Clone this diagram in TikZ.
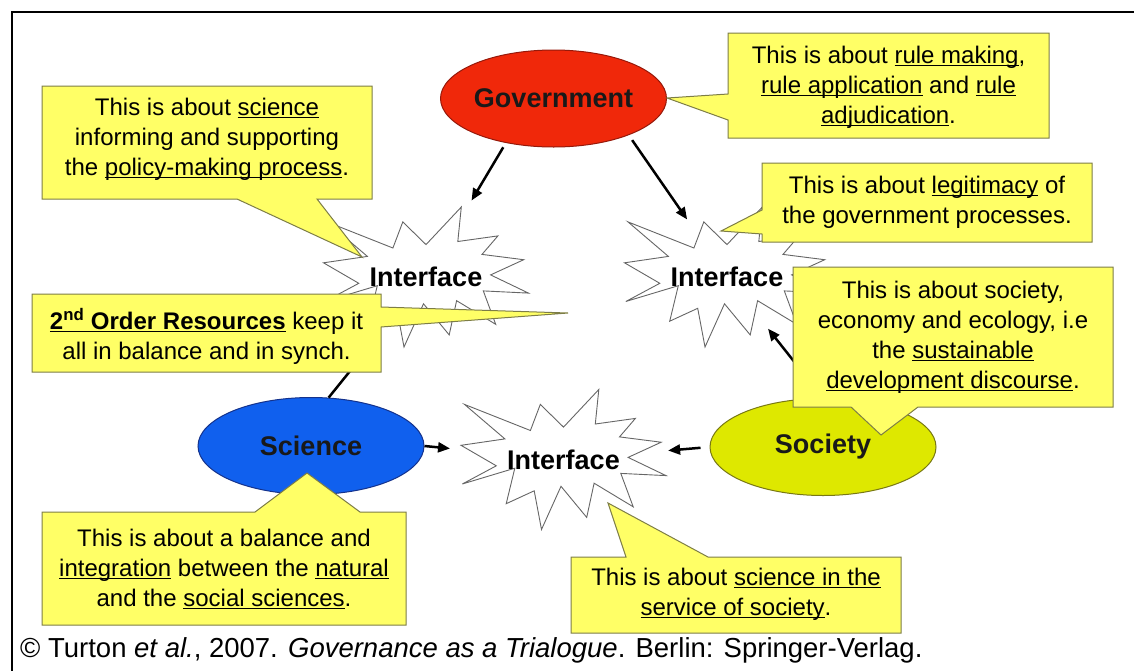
\documentclass[tikz,border=0pt]{standalone}
\usepackage{fontspec}
\setmainfont{Liberation Sans}
\usetikzlibrary{shapes.geometric,arrows.meta}

\definecolor{notefill}{RGB}{255,255,102}
\definecolor{noteline}{RGB}{125,125,70}
\definecolor{govred}{RGB}{240,40,10}
\definecolor{govline}{RGB}{150,25,10}
\definecolor{sciblue}{RGB}{16,96,238}
\definecolor{sciline}{RGB}{20,50,140}
\definecolor{socyel}{RGB}{222,232,0}
\definecolor{socline}{RGB}{120,120,20}

\newsavebox{\uwbox}
\newcommand{\uword}[1]{\sbox{\uwbox}{#1}\rlap{\rule[-3.2pt]{\wd\uwbox}{1.2pt}}\usebox{\uwbox}}

\begin{document}
\begin{tikzpicture}
[x=1pt,y=-1pt,
 actor/.style={ellipse,minimum width=226pt,minimum height=97pt,inner sep=0pt,line width=1pt,
   font=\fontsize{27}{32}\selectfont\bfseries,text=black!90},
 iface/.style={font=\fontsize{27}{32}\selectfont\bfseries,inner sep=0pt},
 note/.style={align=center,inner sep=0pt,font=\fontsize{24}{30}\selectfont},
 notebox/.style={fill=notefill,draw=noteline,line width=1pt},
 arr/.style={-{Triangle[length=12pt,width=10pt]},line width=2.5pt},
 pics/blast/.style={code={
   \draw[fill=white,draw=black!60,line width=0.9pt]
     (0,-32.4) -- (35.3,-70) -- (31.8,-35.5) -- (71.9,-41.1) -- (56,-22.6) -- (97.7,-17.3)
     -- (64.6,-2.1) -- (102.5,16.1) -- (57.3,13.9) -- (69.7,47.3) -- (30.6,23.7) -- (23.2,57.9)
     -- (-2.5,26.8) -- (-22,70) -- (-29.3,31.3) -- (-57.3,44.2) -- (-48.7,8.7) -- (-101.2,24.5)
     -- (-67.2,6.3) -- (-102.5,-14.2) -- (-58.6,-20.6) -- (-99,-55.1) -- (-33.1,-29) -- (-23.2,-55.1)
     -- cycle;}}]

  \useasboundingbox (0,0) rectangle (1134,670);
  \draw[line width=2pt] (12,672) -- (12,12) -- (1136,12);

  \node[actor,fill=govred,draw=govline] (gov) at (553.5,98.5) {Government};
  \node[actor,fill=sciblue,draw=sciline] (sci) at (311,446) {Science};
  \node[actor,fill=socyel,draw=socline] (soc) at (823,447) {Society};

  \foreach \name/\cx/\cy in {i1/426/277, i2/727/277, i3/563.5/459.5}
  {
    \pic at (\cx,\cy) {blast};
    \node[iface] (\name) at (\cx,\cy) {Interface};
  }

  \draw[arr,shorten <=5pt,shorten >=89pt] (gov.223) -- (i1.center);
  \draw[arr,shorten <=6pt,shorten >=70pt] (gov.-26) -- (i2.center);
  \draw[arr,shorten >=114pt] (sci.east) -- (i3.center);
  \draw[arr,shorten <=9pt,shorten >=105pt] (soc.west) -- (i3.center);
  \draw[arr,shorten >=85pt] (sci.70) -- (i1.center);
  \draw[arr,shorten >=66pt] (soc.north) -- (i2.center);

  \draw[notebox] (42,86) -- (372,86) -- (372,199) -- (317,199) -- (362,257) -- (237,199) -- (42,199) -- cycle;
  \node[note] (n1) at (207,139) {This is about \uword{science}\\ informing and supporting\\ the \uword{policy-making process}.};

  \draw[notebox] (728,33) -- (1049,33) -- (1049,138) -- (728,138) -- (728,120) -- (667,98) -- (728,94) -- cycle;
  \node[note] (n2) at (888.5,87) {This is about \uword{rule making},\\ \uword{rule application} and \uword{rule}\\ \uword{adjudication}.};

  \draw[notebox] (762,163) -- (1092,163) -- (1092,242) -- (762,242) -- (762,234) -- (721,231) -- (762,210) -- cycle;
  \node[note] (n3) at (927,202) {This is about \uword{legitimacy} of\\ the government processes.};

  \draw[notebox] (32,294) -- (381,294) -- (381,307) -- (568,313) -- (381,327) -- (381,372) -- (32,372) -- cycle;
  \node[note] (n4) at (206.5,336) {\uword{\textbf{2\textsuperscript{nd} Order Resources}} keep it\\ all in balance and in synch.};

  \draw[notebox] (793,267) -- (1113,267) -- (1113,407) -- (918,407) -- (881,435) -- (851,407) -- (793,407) -- cycle;
  \node[note] (n5) at (953,337) {This is about society,\\ economy and ecology, i.e\\ the \uword{sustainable}\\ \uword{development discourse}.};

  \draw[notebox] (42,512) -- (255,512) -- (307,473) -- (360,512) -- (406,512) -- (406,625) -- (42,625) -- cycle;
  \node[note] (n6) at (224,569) {This is about a balance and\\ \uword{integration} between the \uword{natural}\\ and the \uword{social sciences}.};

  \draw[notebox] (571,557) -- (626,557) -- (608,503) -- (708,557) -- (901,557) -- (901,633) -- (571,633) -- cycle;
  \node[note] (n7) at (736,594) {This is about \uword{science in the}\\ \uword{service of society}.};

  \node[anchor=base west,inner sep=0pt,font=\fontsize{27.5}{32}\selectfont] (cap) at (20,657)
    {© Turton \textit{et al.}, 2007. \textit{Governance as a Trialogue}. Berlin: Springer-Verlag.};

\end{tikzpicture}
\end{document}
